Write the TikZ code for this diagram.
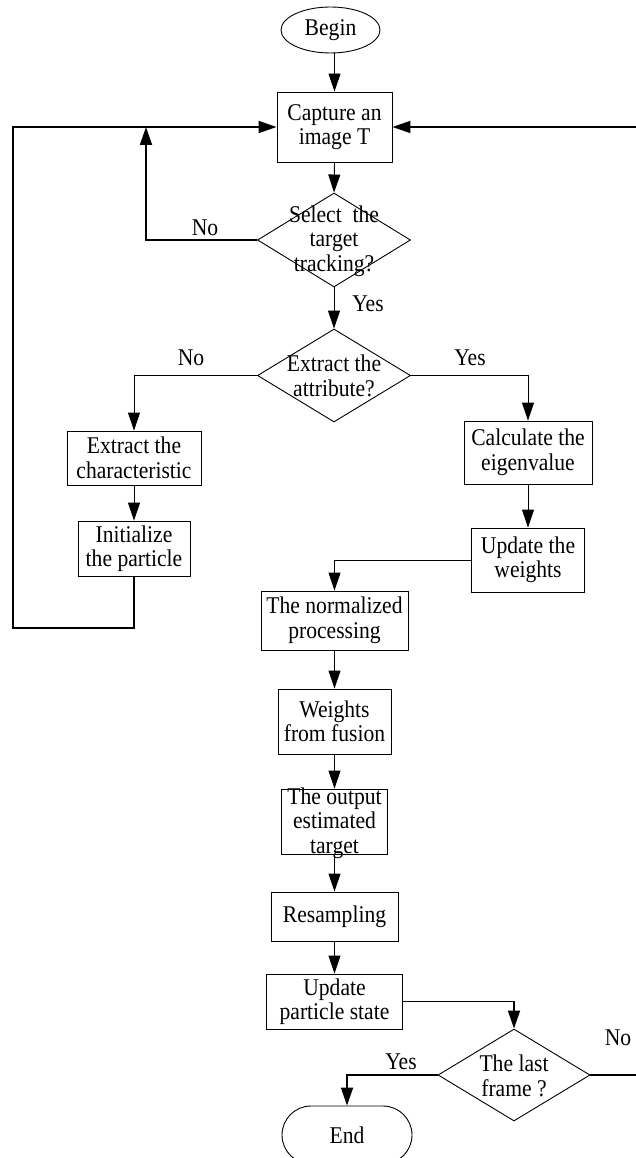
\documentclass[tikz,border=0pt]{standalone}
\usepackage{fontspec}
\setmainfont{Liberation Serif}[FakeStretch=0.9]
\usetikzlibrary{shapes.geometric,arrows.meta}
\newcommand\flowfont{\fontsize{24}{24.5}\selectfont}
\tikzset{
  box/.style={draw, line width=0.9pt, inner sep=0pt, align=center, font=\flowfont},
  txt/.style={inner sep=0pt, align=center, font=\flowfont},
  lbl/.style={inner sep=0pt, font=\flowfont},
  dia/.style={draw, diamond, line width=0.9pt, inner sep=0pt},
  oval/.style={draw, ellipse, line width=0.9pt, inner sep=0pt, font=\flowfont},
  stadium/.style={draw, rectangle, rounded corners=29pt, line width=0.9pt, inner sep=0pt, font=\flowfont},
  arr/.style={line width=0.9pt, -{Triangle[length=18pt,width=12pt]}},
  thickarr/.style={line width=1.8pt, -{Triangle[length=18pt,width=12pt]}},
}
\begin{document}
\begin{tikzpicture}[x=1pt,y=-1pt]
\useasboundingbox (0,0) rectangle (636,1158);
\clip (0,0) rectangle (636,1158);

% nodes
\node[oval, minimum width=99pt, minimum height=46pt] (begin) at (330.5,30) {Begin};
\node[box, minimum width=115pt, minimum height=70pt] (capture) at (334.5,127) {Capture an\\image T};
\node[dia, minimum width=153pt, minimum height=94pt] (d1) at (334,240) {};
\node[txt] (t1) at (334,241) {Select\ \ the\\target\\tracking?};
\node[dia, minimum width=153pt, minimum height=93pt] (d2) at (334,375.5) {};
\node[txt] (t2) at (334,376) {Extract the\\attribute?};
\node[box, minimum width=134pt, minimum height=54pt] (ext) at (134,458) {Extract the\\characteristic};
\node[box, minimum width=112pt, minimum height=55pt] (init) at (134,548.5) {Initialize\\the particle};
\node[box, minimum width=128pt, minimum height=63pt] (calc) at (528,452.5) {Calculate the\\eigenvalue};
\node[box, minimum width=113pt, minimum height=64pt] (updw) at (528,560) {Update the\\weights};
\node[box, minimum width=147pt, minimum height=59pt] (norm) at (334.5,620.5) {The normalized\\processing};
\node[box, minimum width=113pt, minimum height=65pt] (fus) at (334.5,721.5) {Weights\\from fusion};
\node[box, minimum width=106pt, minimum height=65pt] (out) at (334.5,821.5) {};
\node[txt] (t3) at (334.5,823) {The output\\estimated\\target};
\node[box, minimum width=127pt, minimum height=49pt] (res) at (334.5,916.5) {Resampling};
\node[box, minimum width=136pt, minimum height=55pt] (updp) at (334.5,1001.5) {Update\\particle state};
\node[dia, minimum width=152pt, minimum height=92pt] (d3) at (514,1075) {};
\node[txt] (t4) at (514,1076) {The last\\frame ?};
\node[stadium, minimum width=130pt, minimum height=58pt] (end) at (347,1135) {End};

% labels
\node[lbl] (no1) at (205,228) {No};
\node[lbl] (yes1) at (368,304) {Yes};
\node[lbl] (no2) at (191,358) {No};
\node[lbl] (yes2) at (470,358) {Yes};
\node[lbl] (yes3) at (401,1062) {Yes};
\node[lbl] (no3) at (618,1038) {No};

% helper coordinates
\coordinate (noTurn) at (146,127);
\coordinate (lb) at (134,628);
\coordinate (ll) at (13,628);
\coordinate (lt) at (13,127);
\coordinate (rb) at (650,1075);
\coordinate (rt) at (650,127);

% connectors
\draw[arr] (capture.north |- begin.south) -- (capture.north);
\draw[arr] (capture.south) -- (d1.north);
\draw[thickarr] (d1.west) -| (noTurn);
\draw[thickarr] (init.south) -- (lb) -- (ll) -- (lt) -- (capture.west);
\draw[thickarr] (d3.east) -- (rb) -- (rt) -- (capture.east);
\draw[arr] (d1.south) -- (d2.north);
\draw[arr] (d2.west) -| (ext.north);
\draw[arr] (d2.east) -| (calc.north);
\draw[arr] (ext) -- (init);
\draw[arr] (calc) -- (updw);
\draw[arr] (updw.west) -| (norm.north);
\draw[arr] (norm) -- (fus);
\draw[arr] (fus) -- (out);
\draw[arr] (out) -- (res);
\draw[arr] (res) -- (updp);
\draw[thickarr] (updp.east) -| (d3.north);
\draw[thickarr] (d3.west) -| (end.north);
\end{tikzpicture}
\end{document}
